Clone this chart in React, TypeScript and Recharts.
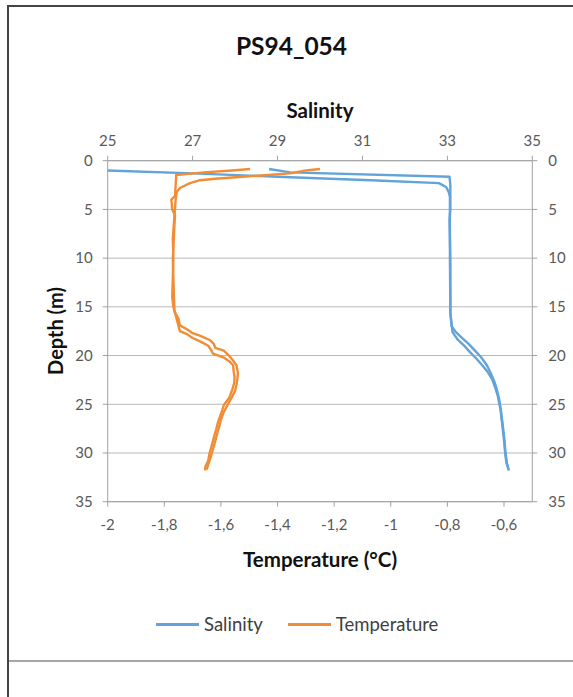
import React from "react"
import {
  ScatterChart,
  Scatter,
  XAxis,
  YAxis,
  CartesianGrid,
  Legend,
} from "recharts"

const FONT = "Lato, 'Open Sans', sans-serif"
const BLUE = "#62A4DA"
const ORANGE = "#F18D36"

const depthTicks = [0, 5, 10, 15, 20, 25, 30, 35]
const salinityTicks = [25, 27, 29, 31, 33, 35]
const temperatureTicks = [-2, -1.8, -1.6, -1.4, -1.2, -1, -0.8, -0.6]

// salinity, first cast (starts at the surface value 25)
const salinityDepthA = [
  1.0, 1.3, 1.7, 2.0, 2.3, 2.7, 3.2, 3.7, 6, 10, 15.6, 17.0, 17.6, 18.2, 18.8,
  19.5, 20.2, 21.0, 21.8, 22.6, 23.4, 24.5, 25.6, 27.0, 28.5, 30.0, 31.0, 31.7,
]
const salinityA = [
  25.0, 27.0, 29.3, 31.2, 32.8, 32.97, 33.03, 33.06, 33.06, 33.06, 33.07, 33.1,
  33.2, 33.35, 33.5, 33.65, 33.8, 33.93, 34.02, 34.1, 34.16, 34.22, 34.26, 34.3,
  34.34, 34.37, 34.4, 34.44,
]

// salinity, second cast
const salinityDepthB = [
  0.85, 1.2, 1.64, 2.5, 5, 6.1, 10, 15.6, 17.6, 18.4, 19.0, 19.6, 20.3, 21.0,
  21.7, 22.4, 23.2, 24.2, 25.5, 27, 28.5, 30, 31, 31.8,
]
const salinityB = [
  28.8, 29.3, 33.05, 33.07, 33.07, 33.05, 33.07, 33.07, 33.12, 33.25, 33.4,
  33.52, 33.68, 33.82, 33.95, 34.05, 34.12, 34.19, 34.25, 34.29, 34.33, 34.36,
  34.39, 34.45,
]

// temperature, first cast
const temperatureDepthA = [
  0.85, 1.0, 1.2, 1.47, 2.5, 3.6, 4.0, 5.0, 5.6, 7, 9, 10, 12, 14, 15.5, 16.2,
  16.9, 17.3, 17.7, 18.0, 18.4, 18.8, 19.2, 19.5, 19.9, 20.4, 21.0, 21.8, 22.4,
  23.0, 23.6, 24.2, 25.0, 25.8, 26.6, 27.4, 28.2, 29.0, 29.8, 30.6, 31.2, 31.7,
]
const temperatureA = [
  -1.497, -1.56, -1.66, -1.758, -1.76, -1.762, -1.775, -1.772, -1.762, -1.765,
  -1.768, -1.77, -1.768, -1.766, -1.764, -1.75, -1.745, -1.72, -1.7, -1.67,
  -1.64, -1.625, -1.62, -1.59, -1.575, -1.56, -1.545, -1.54, -1.542, -1.545,
  -1.55, -1.56, -1.575, -1.59, -1.6, -1.607, -1.615, -1.622, -1.63, -1.638,
  -1.645, -1.65,
]

// temperature, second cast
const temperatureDepthB = [
  0.85, 1.0, 1.3, 1.6, 1.85, 2.0, 2.3, 2.8, 3.2, 4, 6, 8, 10, 12, 14, 15, 16.4,
  17.5, 17.8, 18.2, 18.6, 19.0, 19.4, 19.8, 20.2, 20.6, 21.0, 21.6, 22.2, 22.8,
  23.5, 24.3, 25.1, 26.0, 26.8, 27.6, 28.4, 29.2, 30.0, 30.8, 31.4, 31.8,
]
const temperatureB = [
  -1.25, -1.3, -1.356, -1.5, -1.62, -1.674, -1.709, -1.745, -1.756, -1.76,
  -1.765, -1.77, -1.768, -1.77, -1.772, -1.768, -1.755, -1.745, -1.72, -1.7,
  -1.67, -1.645, -1.635, -1.628, -1.59, -1.57, -1.557, -1.555, -1.552, -1.553,
  -1.56, -1.57, -1.59, -1.6, -1.61, -1.617, -1.625, -1.632, -1.64, -1.645,
  -1.655, -1.656,
]

const zip = (depths: number[], values: number[]) =>
  depths.map((depth, i) => ({ depth, x: values[i] }))

const formatTemp = (v: number) =>
  String(Math.round(v * 10) / 10).replace(".", ",")

const tickStyle = { fill: "#595959", fontSize: 15, fontFamily: FONT }
const axisColor = "#a0a0a0"

const renderLegend = (props: any) => {
  const payload = (props?.payload ?? []).filter((e: any) => e.type !== "none")
  return (
    <div style={{ display: "flex", alignItems: "center", fontFamily: FONT, fontSize: 18.5, color: "#404040", lineHeight: 1 }}>
      {payload.map((entry: any) => (
        <span key={entry.value} style={{ display: "flex", alignItems: "center", marginRight: 25 }}>
          <span style={{ display: "inline-block", width: 43, height: 2.5, background: entry.color, marginRight: 5 }} />
          {entry.value}
        </span>
      ))}
    </div>
  )
}

const centered = (left: number, top: number): React.CSSProperties => ({
  position: "absolute",
  left,
  top,
  transform: "translate(-50%, -50%)",
  whiteSpace: "nowrap",
  lineHeight: 1,
  fontFamily: FONT,
  color: "#111",
})

export default function App() {
  return (
    <div style={{ position: "absolute", left: 0, top: 0, width: 573, height: 697, background: "#fff", overflow: "hidden" }}>
      <div style={{ position: "absolute", left: 7, top: 5, right: -10, bottom: -10, borderLeft: "2px solid #444", borderTop: "2px solid #444" }} />
      <div style={{ position: "absolute", left: 9, right: 0, top: 660, height: 1.5, background: "#a6a6a6" }} />

      <div style={{ ...centered(291.5, 46), fontSize: 24.5, fontWeight: 700 }}>PS94_054</div>
      <div style={{ ...centered(320, 110), fontSize: 20.5, fontWeight: 700 }}>Salinity</div>
      <div style={{ ...centered(320, 559), fontSize: 20.5, fontWeight: 700 }}>Temperature (°C)</div>
      <div style={{ ...centered(55, 331), fontSize: 20, fontWeight: 700, transform: "translate(-50%, -50%) rotate(-90deg)" }}>
        Depth (m)
      </div>

      <div style={{ position: "absolute", left: 0, top: 0 }}>
        <ScatterChart
          width={573}
          height={697}
          margin={{ top: 130.7, right: 0.7, bottom: 165.3, left: 47.7 }}
        >
          <CartesianGrid vertical={false} stroke="#b8b8b8" xAxisId="sal" yAxisId="depth" />

          <XAxis
            xAxisId="sal"
            orientation="top"
            type="number"
            dataKey="x"
            domain={[25, 35]}
            ticks={salinityTicks}
            allowDataOverflow
            tick={tickStyle}
            tickSize={5}
            tickMargin={10}
            stroke={axisColor}
            height={30}
          />
          <XAxis
            xAxisId="temp"
            orientation="bottom"
            type="number"
            dataKey="x"
            domain={[-2, -0.5]}
            ticks={temperatureTicks}
            tickFormatter={formatTemp}
            allowDataOverflow
            tick={tickStyle}
            tickSize={5}
            tickMargin={13}
            stroke={axisColor}
            height={30}
          />
          <YAxis
            yAxisId="depth"
            type="number"
            dataKey="depth"
            domain={[0, 35]}
            ticks={depthTicks}
            reversed
            allowDataOverflow
            tick={tickStyle}
            tickSize={5}
            tickMargin={10}
            stroke={axisColor}
            width={60}
          />
          <YAxis
            yAxisId="depthRight"
            orientation="right"
            type="number"
            dataKey="depth"
            domain={[0, 35]}
            ticks={depthTicks}
            reversed
            allowDataOverflow
            tick={tickStyle}
            tickSize={5}
            tickMargin={11}
            stroke={axisColor}
            width={40}
          />

          <Legend
            verticalAlign="middle"
            content={renderLegend}
            wrapperStyle={{ position: "absolute", left: 156, top: 615, width: 340, height: 20 }}
          />

          <Scatter
            name="Salinity"
            data={zip(salinityDepthA, salinityA)}
            xAxisId="sal"
            yAxisId="depth"
            fill={BLUE}
            line={{ stroke: BLUE, strokeWidth: 2.4, strokeLinejoin: "round" }}
            shape={() => null}
            legendType="plainline"
            isAnimationActive={false}
          />
          <Scatter
            name="Salinity 2"
            data={zip(salinityDepthB, salinityB)}
            xAxisId="sal"
            yAxisId="depth"
            fill={BLUE}
            line={{ stroke: BLUE, strokeWidth: 2.4, strokeLinejoin: "round" }}
            shape={() => null}
            legendType="none"
            isAnimationActive={false}
          />
          <Scatter
            name="Temperature"
            data={zip(temperatureDepthA, temperatureA)}
            xAxisId="temp"
            yAxisId="depth"
            fill={ORANGE}
            line={{ stroke: ORANGE, strokeWidth: 2.4, strokeLinejoin: "round" }}
            shape={() => null}
            legendType="plainline"
            isAnimationActive={false}
          />
          <Scatter
            name="Temperature 2"
            data={zip(temperatureDepthB, temperatureB)}
            xAxisId="temp"
            yAxisId="depth"
            fill={ORANGE}
            line={{ stroke: ORANGE, strokeWidth: 2.4, strokeLinejoin: "round" }}
            shape={() => null}
            legendType="none"
            isAnimationActive={false}
          />
        </ScatterChart>
      </div>
    </div>
  )
}
